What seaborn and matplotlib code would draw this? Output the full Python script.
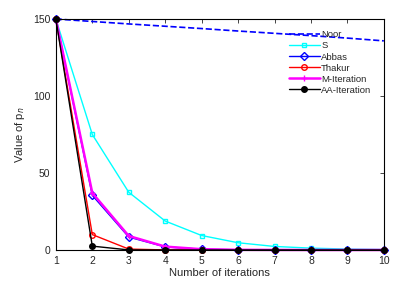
import numpy as np
import pandas as pd
import matplotlib
matplotlib.use("Agg")
import matplotlib.pyplot as plt
import seaborn as sns

iters = [1, 2, 3, 4, 5, 6, 7, 8, 9, 10]
noor = [150, 148.4, 146.8, 145.3, 143.8, 142.2, 140.7, 139.2, 137.6, 135.8]
s_iter = [150, 75, 37.5, 18.8, 9.4, 4.7, 2.3, 1.2, 0.6, 0.3]
abbas = [150, 35.5, 8.4, 2.0, 0.5, 0.1, 0.03, 0.0, 0.0, 0.0]
thakur = [150, 10.0, 0.6, 0.04, 0.0, 0.0, 0.0, 0.0, 0.0, 0.0]
m_iter = [150, 37.0, 9.1, 2.2, 0.5, 0.1, 0.03, 0.0, 0.0, 0.0]
aa_iter = [150, 2.5, 0.04, 0.0, 0.0, 0.0, 0.0, 0.0, 0.0, 0.0]

names = ["Noor", "S", "Abbas", "Thakur", "M-Iteration", "AA-Iteration"]
series = [noor, s_iter, abbas, thakur, m_iter, aa_iter]
colors = ["#0000ff", "#00ffff", "#0000ff", "#ff0000", "#ff00ff", "#000000"]
markers = [None, "s", "D", "o", "+", "o"]
fills = ["none", "none", "none", "none", "none", "#000000"]
sizes = [0, 3.5, 4, 4, 5, 4]
lws = [1.2, 1.0, 1.0, 1.0, 1.8, 1.0]

sns.set_style("white")
plt.rcParams["font.family"] = ["Liberation Sans", "DejaVu Sans"]

fig = plt.figure(figsize=(3.99, 2.88), dpi=100)
ax = fig.add_axes([0.140, 0.132, 0.822, 0.802])

for name, vals, c, m, fc, ms, lw in zip(names, series, colors, markers, fills, sizes, lws):
    df = pd.DataFrame({"n": iters, "p": vals})
    sns.lineplot(data=df, x="n", y="p", ax=ax, color=c, label=name,
                 marker=m, markersize=ms, markerfacecolor=fc, markeredgecolor=c,
                 markeredgewidth=1.0, linewidth=lw, clip_on=False,
                 linestyle="--" if name == "Noor" else "-")

ax.set_xlim(1, 10)
ax.set_ylim(0, 150)
ax.set_xticks(iters)
ax.set_yticks([0, 50, 100, 150])
ax.tick_params(direction="in", top=True, right=True, labelsize=7.5, length=3, width=0.6, pad=4)
for sp in ax.spines.values():
    sp.set_color("black")
    sp.set_linewidth(0.8)
ax.set_xlabel("Number of iterations", fontsize=8, labelpad=2)
ax.set_ylabel("Value of p$_n$", fontsize=8, labelpad=4)

leg = ax.legend(loc="upper right", bbox_to_anchor=(0.965, 0.955), frameon=False, fontsize=6.8,
                handlelength=3.3, labelspacing=0.22, handletextpad=0.15, borderpad=0.1,
                borderaxespad=0)

fig.savefig("out.png", dpi=100)
